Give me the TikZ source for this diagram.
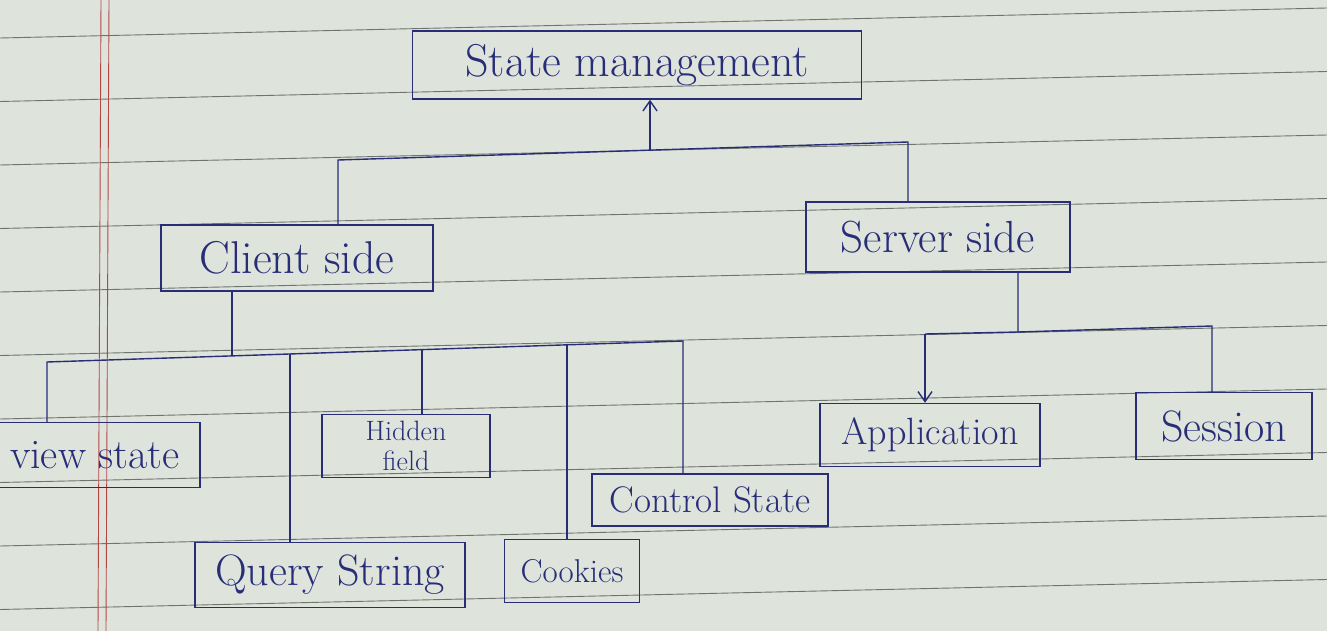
\documentclass[tikz,border=0pt]{standalone}
\usetikzlibrary{arrows.meta}
\definecolor{paper}{RGB}{222,228,219}
\definecolor{rulecol}{RGB}{110,116,110}
\definecolor{ink}{RGB}{40,45,120}
\definecolor{margincol}{RGB}{180,70,70}
\begin{document}
\begin{tikzpicture}[x=1pt,y=-1pt,
  box/.style={draw=ink, line width=1.4pt, text=ink, inner sep=1pt, align=center},
  link/.style={draw=ink, line width=1.4pt},
  arr/.style={link, -{Straight Barb[length=10pt,width=14pt]}}]
\fill[paper] (0,0) rectangle (1327,631);
\useasboundingbox (0,0) rectangle (1327,631);
% ruled paper
\foreach \k in {-1,...,10}
  \draw[rulecol, line width=0.9pt] (0,{38+63.5*\k}) -- (1327,{38+63.5*\k-30});
\draw[margincol, line width=0.9pt] (101,0) -- (98,631);
\draw[margincol, line width=0.9pt] (109,0) -- (106,631);
% nodes
\node[box, minimum width=449pt, minimum height=68pt, font=\fontsize{46}{50}\selectfont] (sm) at (637,65) {State management};
\node[box, minimum width=272pt, minimum height=66pt, font=\fontsize{46}{50}\selectfont] (cs) at (297,258) {Client side};
\node[box, minimum width=264pt, minimum height=70pt, font=\fontsize{45}{50}\selectfont] (ss) at (938,237) {Server side};
\node[box, minimum width=210pt, minimum height=65pt, font=\fontsize{42}{46}\selectfont] (vs) at (95,455) {view state};
\node[box, minimum width=168pt, minimum height=63pt, font=\fontsize{28}{30}\selectfont] (hf) at (406,446) {Hidden\\field};
\node[box, minimum width=270pt, minimum height=65pt, font=\fontsize{44}{48}\selectfont] (qs) at (330,575) {Query String};
\node[box, minimum width=135pt, minimum height=63pt, font=\fontsize{33}{38}\selectfont] (ck) at (572,571) {Cookies};
\node[box, minimum width=236pt, minimum height=52pt, font=\fontsize{37}{40}\selectfont] (ct) at (710,500) {Control State};
\node[box, minimum width=220pt, minimum height=63pt, font=\fontsize{38}{42}\selectfont] (ap) at (930,435) {Application};
\node[box, minimum width=176pt, minimum height=67pt, font=\fontsize{44}{48}\selectfont] (se) at (1224,426) {Session};
% top level connectors
\coordinate (b1L) at (338,160);
\coordinate (b1R) at (908,142);
\coordinate (b1M) at (650,151);
\draw[link] (cs.north -| b1L) -- (b1L) -- (b1R) -- (b1R |- ss.north);
\draw[arr] (b1M) -- (b1M |- sm.south);
% client side connectors
\coordinate (b2c) at (232,356);
\coordinate (b2L) at (47,362);
\coordinate (b2R) at (683,341);
\coordinate (b2q) at (290,354);
\coordinate (b2h) at (422,350);
\coordinate (b2k) at (567,345);
\draw[link] (cs.south -| b2c) -- (b2c);
\draw[link] (vs.north -| b2L) -- (b2L) -- (b2R) -- (b2R |- ct.north);
\draw[link] (b2q) -- (b2q |- qs.north);
\draw[link] (b2h) -- (b2h |- hf.north);
\draw[link] (b2k) -- (b2k |- ck.north);
% server side connectors
\coordinate (b3) at (1018,332);
\coordinate (b3L) at (925,334);
\coordinate (b3R) at (1212,326);
\draw[link] (ss.south -| b3) -- (b3) -- (b3L);
\draw[arr] (b3L) -- (b3L |- ap.north);
\draw[link] (b3) -- (b3R) -- (b3R |- se.north);
\end{tikzpicture}
\end{document}
